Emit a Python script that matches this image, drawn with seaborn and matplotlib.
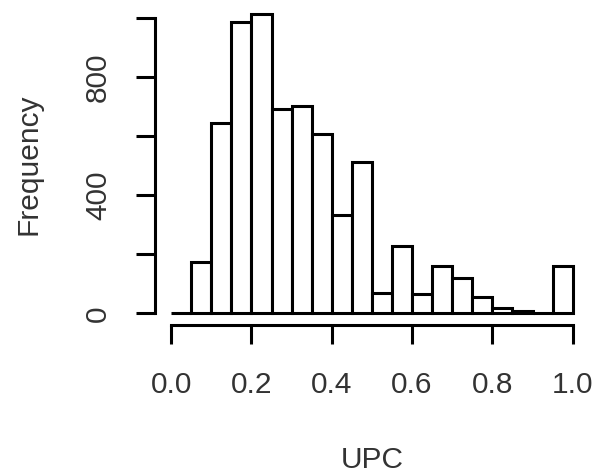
# %%
# import libraries

import numpy as np
import pandas as pd
import matplotlib
matplotlib.use('Agg')
import matplotlib.pyplot as plt
import seaborn as sns

# %%
# histogram counts (bin width 0.05)

bin_edges = [round(0.05 * i, 2) for i in range(21)]
bin_counts = [0, 173, 646, 989, 1014, 694, 704, 609, 333, 512,
              68, 230, 65, 161, 121, 56, 18, 7, 0, 161]
x_ticks = [0.0, 0.2, 0.4, 0.6, 0.8, 1.0]
x_tick_labels = ['0.0', '0.2', '0.4', '0.6', '0.8', '1.0']
y_ticks = [0, 200, 400, 600, 800, 1000]
y_tick_labels = ['0', '', '400', '', '800', '']

# %%
# draw R style histogram

sns.set_style('white')
plt.rcParams['font.family'] = ['Liberation Sans', 'DejaVu Sans']

df = pd.DataFrame({
    'UPC': [(bin_edges[i] + bin_edges[i + 1]) / 2 for i in range(len(bin_counts))],
    'count': bin_counts,
})

fig = plt.figure(figsize = (6.07, 4.75), dpi = 100)
axis = fig.add_axes([0.2554, 0.315, 0.7146, 0.680])
sns.histplot(data = df, x = 'UPC', weights = 'count', bins = bin_edges,
             color = 'white', edgecolor = 'black', linewidth = 2.2, alpha = 1, ax = axis)

axis.set_xlim(-0.04, 1.04)
axis.set_ylim(-40.6, 1054.6)
for side in ['top', 'right']:
    axis.spines[side].set_visible(False)
for side in ['left', 'bottom']:
    axis.spines[side].set_linewidth(2.2)
    axis.spines[side].set_color('black')
axis.spines['left'].set_bounds(0, 1000)
axis.spines['bottom'].set_bounds(0, 1.0)

axis.set_xticks(x_ticks)
axis.set_xticklabels(x_tick_labels, fontsize = 21.5)
axis.set_yticks(y_ticks)
axis.set_yticklabels(y_tick_labels, fontsize = 21.5, rotation = 90, va = 'center')
axis.tick_params(axis = 'both', direction = 'out', length = 14, width = 2.2,
                 color = 'black', labelcolor = '#333333', bottom = True, left = True)
axis.tick_params(axis = 'x', pad = 19)
axis.tick_params(axis = 'y', pad = 17)
axis.set_xlabel('UPC', fontsize = 21.5, labelpad = 34, color = '#333333')
axis.set_ylabel('Frequency', fontsize = 21.5, labelpad = 30, color = '#333333')

fig.savefig('out.png', dpi = 100)
